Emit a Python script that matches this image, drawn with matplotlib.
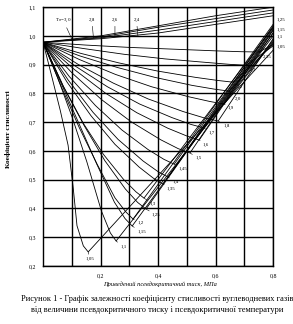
import matplotlib.pyplot as plt

plt.rcParams['font.family'] = ['Liberation Serif', 'DejaVu Serif']

# %% дані
tr_labels = ['1,05', '1,1', '1,15', '1,2', '1,25', '1,3', '1,35', '1,4', '1,45',
             '1,5', '1,6', '1,7', '1,8', '1,9', '2,0', '2,2', '2,3', '2,35']

# спадна частина кривих (до мінімуму)
desc_x = [
    [0, 0.03, 0.06, 0.087, 0.105, 0.118, 0.14, 0.157],
    [0, 0.051, 0.102, 0.152, 0.203, 0.234, 0.254],
    [0, 0.062, 0.124, 0.186, 0.248, 0.285, 0.31],
    [0, 0.063, 0.125, 0.188, 0.25, 0.288, 0.313],
    [0, 0.072, 0.143, 0.215, 0.286, 0.329, 0.358],
    [0, 0.07, 0.14, 0.21, 0.28, 0.323, 0.351],
    [0, 0.083, 0.167, 0.25, 0.334, 0.384, 0.417],
    [0, 0.087, 0.174, 0.261, 0.348, 0.40, 0.435],
    [0, 0.091, 0.182, 0.274, 0.365, 0.42, 0.456],
    [0, 0.102, 0.204, 0.307, 0.409, 0.47, 0.511],
    [0, 0.109, 0.217, 0.326, 0.434, 0.50, 0.543],
    [0, 0.112, 0.224, 0.336, 0.448, 0.515, 0.56],
    [0, 0.122, 0.244, 0.365, 0.487, 0.56, 0.609],
    [0, 0.126, 0.252, 0.378, 0.504, 0.58, 0.63],
    [0, 0.129, 0.259, 0.388, 0.518, 0.595, 0.647],
    [0, 0.132, 0.264, 0.397, 0.529, 0.608, 0.661],
    [0, 0.141, 0.282, 0.424, 0.565, 0.65, 0.706],
    [0, 0.15, 0.30, 0.45, 0.60, 0.69, 0.751],
]
desc_z = [
    [0.978, 0.86, 0.74, 0.62, 0.47, 0.34, 0.27, 0.249],
    [0.978, 0.854, 0.715, 0.563, 0.391, 0.315, 0.287],
    [0.978, 0.837, 0.697, 0.556, 0.422, 0.365, 0.339],
    [0.978, 0.824, 0.683, 0.554, 0.437, 0.388, 0.363],
    [0.978, 0.821, 0.688, 0.566, 0.468, 0.421, 0.398],
    [0.978, 0.826, 0.696, 0.588, 0.501, 0.458, 0.436],
    [0.978, 0.84, 0.722, 0.623, 0.544, 0.505, 0.485],
    [0.978, 0.847, 0.734, 0.64, 0.565, 0.528, 0.509],
    [0.978, 0.859, 0.758, 0.673, 0.605, 0.571, 0.554],
    [0.978, 0.87, 0.778, 0.701, 0.639, 0.608, 0.593],
    [0.978, 0.883, 0.801, 0.733, 0.679, 0.652, 0.638],
    [0.978, 0.895, 0.823, 0.763, 0.716, 0.692, 0.68],
    [0.978, 0.901, 0.836, 0.781, 0.737, 0.715, 0.704],
    [0.978, 0.918, 0.866, 0.823, 0.789, 0.772, 0.763],
    [0.978, 0.93, 0.89, 0.856, 0.828, 0.815, 0.808],
    [0.978, 0.939, 0.906, 0.878, 0.856, 0.845, 0.839],
    [0.978, 0.956, 0.936, 0.92, 0.908, 0.901, 0.898],
    [0.978, 0.968, 0.96, 0.954, 0.948, 0.945, 0.944],
]
# значення z на правому краю (тиск 0,8)
end_z = [0.95, 0.985, 1.01, 1.04, 1.02, 1.03, 1.025, 1.035, 1.03,
         1.02, 1.01, 1.0, 0.99, 0.98, 0.975, 0.97, 0.965, 0.97]

# положення підписів кривих
lab_x = [0.146, 0.268, 0.327, 0.327, 0.379, 0.372, 0.431, 0.449, 0.47,
         0.529, 0.556, 0.574, 0.626, 0.643, 0.668, 0.675, 0.72, 0.765]
lab_z = [0.224, 0.266, 0.318, 0.349, 0.377, 0.415, 0.468, 0.492, 0.537,
         0.575, 0.62, 0.662, 0.686, 0.749, 0.78, 0.822, 0.881, 0.926]

# верхні (майже пологі) криві
top_labels = ['Т$_п$=3,0', '2,8', '2,6', '2,4']
top_x = [0, 0.2, 0.4, 0.6, 0.8]
top_z = [
    [0.978, 1.0, 1.035, 1.07, 1.1],
    [0.978, 0.996, 1.03, 1.06, 1.09],
    [0.978, 0.993, 1.02, 1.05, 1.08],
    [0.978, 0.99, 1.01, 1.04, 1.07],
]
top_lab_x = [0.07, 0.17, 0.25, 0.325]
top_pt_x = [0.10, 0.175, 0.25, 0.33]

right_labels = ['1,25', '1,15', '1,1', '1,05']
right_z = [1.055, 1.02, 0.996, 0.961]

# %% малюнок
fig = plt.figure(figsize=(2.93, 3.24), dpi=100)
ax = fig.add_axes([0.147, 0.179, 0.785, 0.799])

lw = 0.6
for xs, zs, ze in zip(desc_x, desc_z, end_z):
    ax.plot(xs + [0.8], zs + [ze], color='black', lw=lw)

for zs in top_z:
    ax.plot(top_x, zs, color='black', lw=lw)

fs = 3.6
for t, xs, zs, lx, lz in zip(tr_labels, desc_x, desc_z, lab_x, lab_z):
    ax.annotate(t, xy=(xs[-1], zs[-1]), xytext=(lx, lz), fontsize=fs,
                ha='left', va='center',
                arrowprops=dict(arrowstyle='-', lw=0.4, shrinkA=0, shrinkB=0))

for t, lx, px, zs in zip(top_labels, top_lab_x, top_pt_x, top_z):
    zp = 0.978 + (zs[1] - 0.978) * px / 0.2
    ax.annotate(t, xy=(px, zp), xytext=(lx, 1.055), fontsize=fs,
                ha='center', va='center',
                arrowprops=dict(arrowstyle='-', lw=0.4, shrinkA=1, shrinkB=0))

for t, z in zip(right_labels, right_z):
    ax.text(0.812, z, t, fontsize=fs, ha='left', va='center', clip_on=False)

ax.set_xlim(0, 0.8)
ax.set_ylim(0.2, 1.1)
ax.set_xticks([0.2, 0.4, 0.6, 0.8])
ax.set_xticklabels(['0,2', '0,4', '0,6', '0,8'])
ax.set_yticks([0.2, 0.3, 0.4, 0.5, 0.6, 0.7, 0.8, 0.9, 1.0, 1.1])
ax.set_yticklabels(['0,2', '0,3', '0,4', '0,5', '0,6', '0,7', '0,8', '0,9', '1,0', '1,1'])
ax.set_xticks([0.1, 0.3, 0.5, 0.7], minor=True)
ax.tick_params(length=0, labelsize=4.2, pad=5)
ax.tick_params(which='minor', length=0)
ax.grid(True, which='both', color='black', lw=1.0)
for s in ax.spines.values():
    s.set_linewidth(1.0)

fig.text(0.546, 0.123, 'Приведений псевдокритичний тиск, МПа', fontsize=4.6,
         style='italic', ha='center', va='center')
fig.text(0.027, 0.6, 'Коефіцієнт стисливості', fontsize=5.3, weight='bold',
         rotation=90, ha='center', va='center')

fig.text(0.535, 0.06, 'Рисунок 1 - Графік залежності коефіцієнту стисливості вуглеводневих газів\n'
         'від величини псевдокритичного тиску і псевдокритичної температури',
         ha='center', va='center', fontsize=6.0, linespacing=1.45)

fig.savefig('out.png', dpi=100)
